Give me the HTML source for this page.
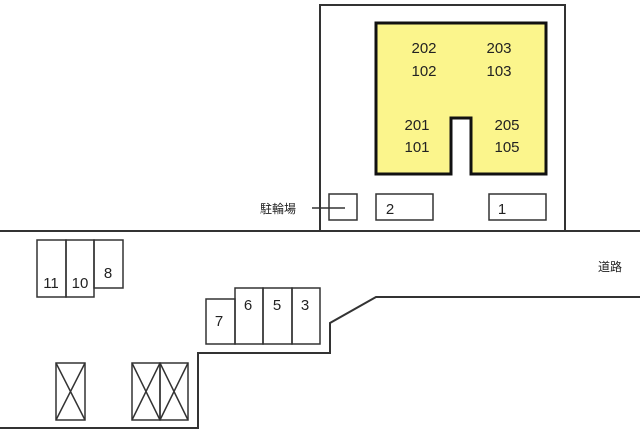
<!DOCTYPE html>
<html><head><meta charset="utf-8"><style>body{margin:0;background:#fff}</style></head><body>
<svg width="640" height="439" xmlns="http://www.w3.org/2000/svg" font-family="Liberation Sans, Noto Sans CJK JP, sans-serif">
<g fill="none" stroke="#333" stroke-width="2">
<rect x="320" y="5" width="245" height="226"/>
<line x1="0" y1="231" x2="640" y2="231"/>
<polyline points="0,428 198,428 198,353 330,353 330,323 376,297 640,297"/>
</g>
<polygon points="376,23 546,23 546,174 471,174 471,118 451,118 451,174 376,174" fill="#fbf58c" stroke="#111" stroke-width="3"/>
<g fill="none" stroke="#333" stroke-width="1.5">
<rect x="329" y="194" width="28" height="26"/>
<rect x="376" y="194" width="57" height="26"/>
<rect x="489" y="194" width="57" height="26"/>
<line x1="312" y1="208" x2="345" y2="208"/>
<rect x="37" y="240" width="29" height="57"/>
<rect x="66" y="240" width="28" height="57"/>
<rect x="94" y="240" width="29" height="48"/>
<rect x="206" y="299" width="29" height="45"/>
<rect x="235" y="288" width="28" height="56"/>
<rect x="263" y="288" width="29" height="56"/>
<rect x="292" y="288" width="28" height="56"/>
<rect x="56" y="363" width="29" height="57"/>
<path d="M56,363L85,420M85,363L56,420"/>
<rect x="132" y="363" width="28" height="57"/>
<path d="M132,363L160,420M160,363L132,420"/>
<rect x="160" y="363" width="28" height="57"/>
<path d="M160,363L188,420M188,363L160,420"/>
</g>
<g fill="#222" font-size="15" text-anchor="middle">
<text x="424" y="53">202</text><text x="424" y="76">102</text>
<text x="499" y="53">203</text><text x="499" y="76">103</text>
<text x="417" y="130">201</text><text x="417" y="152">101</text>
<text x="507" y="130">205</text><text x="507" y="152">105</text>
<text x="390" y="214">2</text><text x="502" y="214">1</text>
<text x="51" y="288">11</text><text x="80" y="288">10</text><text x="108" y="278">8</text>
<text x="219" y="326">7</text><text x="248" y="310">6</text><text x="277" y="310">5</text><text x="305" y="310">3</text>
</g>
<text x="278" y="213" font-size="12" fill="#222" text-anchor="middle">駐輪場</text>
<text x="610" y="271" font-size="12" fill="#222" text-anchor="middle">道路</text>
</svg>
</body></html>
